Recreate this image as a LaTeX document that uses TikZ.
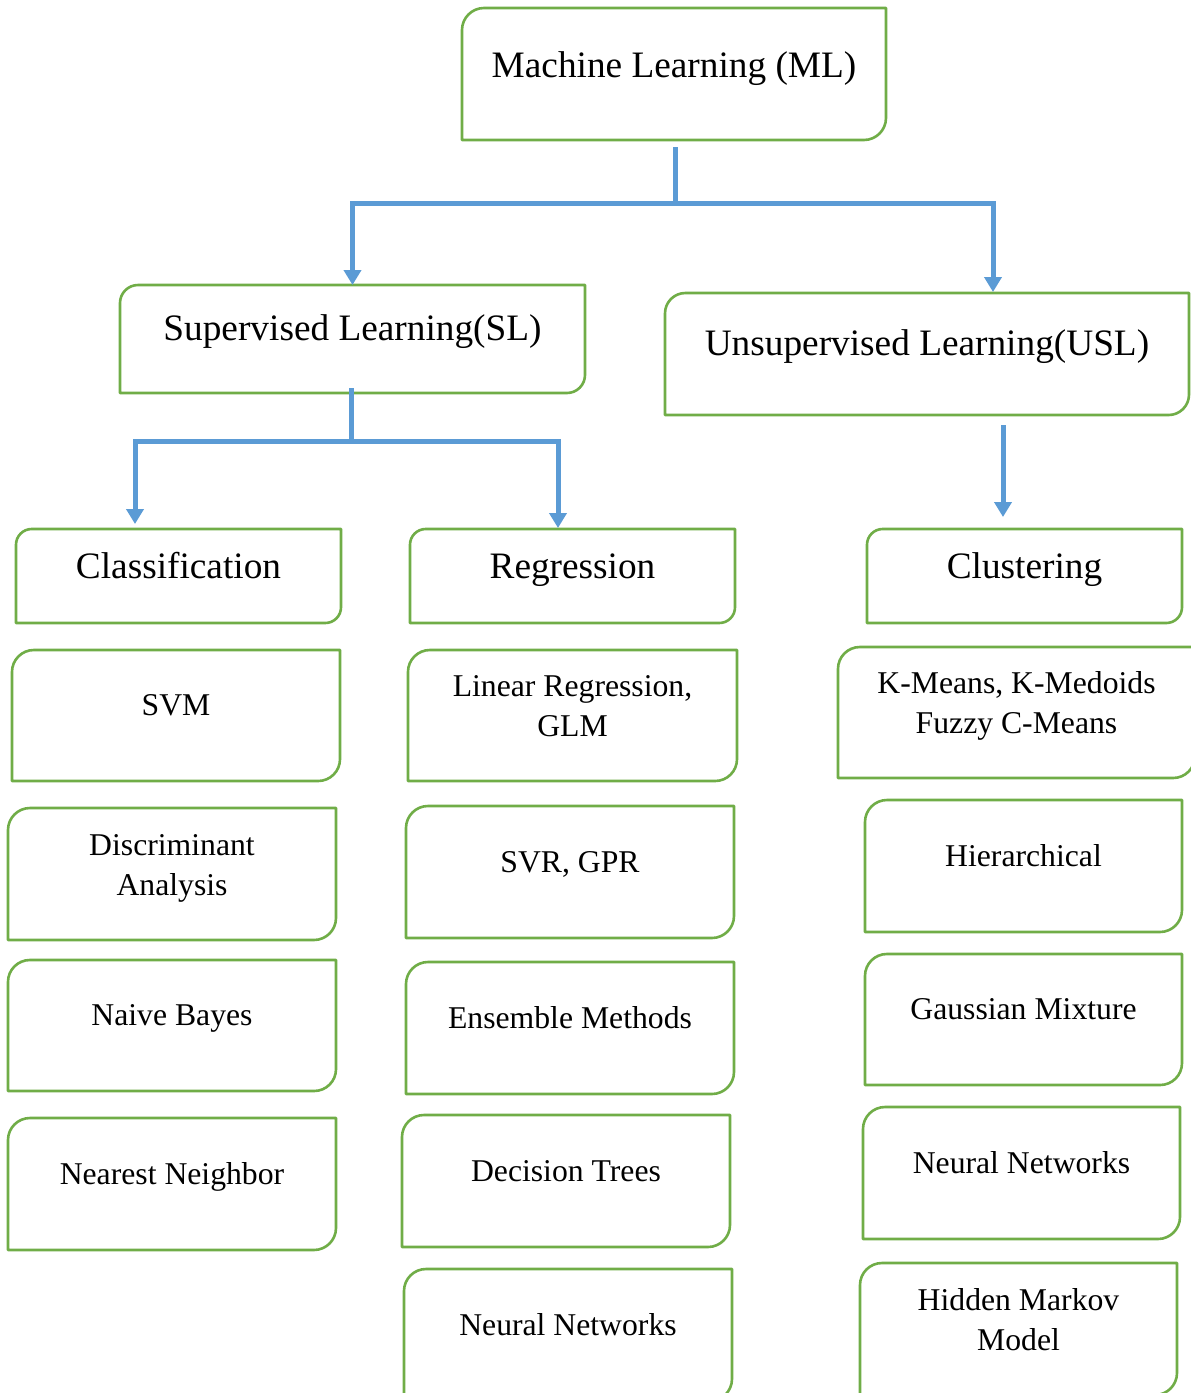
\documentclass[tikz,border=0pt]{standalone}
\usepackage{fontspec}
\setmainfont{Liberation Serif}
\usetikzlibrary{arrows.meta,calc}
\definecolor{boxgreen}{HTML}{70AD47}
\definecolor{linkblue}{HTML}{5B9BD5}
\tikzset{
  boxshape/.style={draw=none,inner sep=0pt,outer sep=0pt},
  boxline/.style={draw=boxgreen,line width=2.6pt,line join=round},
  bigtext/.style={inner sep=0pt,anchor=base,font=\fontsize{37.3}{44}\selectfont},
  smalltext/.style={inner sep=0pt,anchor=base,font=\fontsize{31.7}{40}\selectfont},
  conn/.style={draw=linkblue,line width=5pt},
  connarrow/.style={conn,-{Triangle[width=17pt,length=15pt]}}
}
\newcommand{\twolines}[2]{\begin{tabular}[t]{@{}c@{}}#1\\#2\end{tabular}}
% name, x1, y1, x2, y2, text style, text, baseline offset from centre (downwards)
\newcommand{\gbox}[8]{%
  \pgfmathsetmacro{\gr}{(#5-#3)/6}%
  \node[boxshape,minimum width={(#4-#2)*1pt},minimum height={(#5-#3)*1pt}] (#1) at ({(#2+#4)/2},{(#3+#5)/2}) {};
  \node[#6] (#1-t) at ($(#1.center)+(0,#8)$) {#7};
  \draw[boxline] (#2,#5) -- (#2,{#3+\gr}) .. controls (#2,{#3+0.45*\gr}) and ({#2+0.45*\gr},#3) .. ({#2+\gr},#3)
    -- (#4,#3) -- (#4,{#5-\gr}) .. controls (#4,{#5-0.45*\gr}) and ({#4-0.45*\gr},#5) .. ({#4-\gr},#5) -- cycle;
}
\begin{document}
\begin{tikzpicture}[x=1pt,y=-1pt]
\useasboundingbox (0,0) rectangle (1191,1393);
\clip (0,0) rectangle (1191,1393);
\fill[white] (0,0) rectangle (1191,1393);
% top levels
\gbox{ML}{462}{8}{886}{140}{bigtext}{Machine Learning (ML)}{3}
\gbox{SL}{120}{285}{585}{393}{bigtext}{Supervised Learning(SL)}{1}
\gbox{USL}{665}{293}{1189}{415}{bigtext}{Unsupervised Learning(USL)}{1}
\gbox{Cls}{16}{529}{341}{623}{bigtext}{Classification}{2}
\gbox{Reg}{410}{529}{735}{623}{bigtext}{Regression}{2}
\gbox{Clu}{867}{529}{1182}{623}{bigtext}{Clustering}{2}
% classification column
\gbox{SVM}{12}{650}{340}{781}{smalltext}{SVM}{0}
\gbox{DA}{8}{808}{336}{940}{smalltext}{\twolines{Discriminant}{Analysis}}{-19}
\gbox{NB}{8}{960}{336}{1091}{smalltext}{Naive Bayes}{0}
\gbox{NN}{8}{1118}{336}{1250}{smalltext}{Nearest Neighbor}{0}
% regression column
\gbox{LR}{408}{650}{737}{781}{smalltext}{\twolines{Linear Regression,}{GLM}}{-19}
\gbox{SVR}{406}{806}{734}{938}{smalltext}{SVR, GPR}{0}
\gbox{EM}{406}{962}{734}{1094}{smalltext}{Ensemble Methods}{0}
\gbox{DT}{402}{1115}{730}{1247}{smalltext}{Decision Trees}{0}
\gbox{RNN}{404}{1269}{732}{1401}{smalltext}{Neural Networks}{0}
% clustering column
\gbox{KM}{838}{647}{1195}{778}{smalltext}{\twolines{K-Means, K-Medoids}{Fuzzy C-Means}}{-19}
\gbox{HC}{865}{800}{1182}{932}{smalltext}{Hierarchical}{0}
\gbox{GM}{865}{954}{1182}{1085}{smalltext}{Gaussian Mixture}{0}
\gbox{CNN}{863}{1107}{1180}{1239}{smalltext}{Neural Networks}{0}
\gbox{HMM}{860}{1263}{1177}{1395}{smalltext}{\twolines{Hidden Markov}{Model}}{-19}
% connectors
\coordinate (mlbar) at (675,203);
\coordinate (slbar) at (351,441);
\draw[conn] ([xshift=1pt,yshift=-7pt]ML.south) -- (mlbar);
\draw[connarrow] (mlbar) -| (SL.north);
\draw[connarrow] (mlbar) -| ([xshift=66pt,yshift=1pt]USL.north);
\draw[conn] ([xshift=-1.5pt,yshift=5pt]SL.south) -- (slbar);
\draw[connarrow] (slbar) -| ([xshift=-43.5pt,yshift=5pt]Cls.north);
\draw[connarrow] (slbar) -| ([xshift=-14.5pt,yshift=1pt]Reg.north);
\draw[connarrow] ([xshift=76pt,yshift=-10pt]USL.south) -- ([xshift=-21.5pt,yshift=12pt]Clu.north);
\end{tikzpicture}
\end{document}
